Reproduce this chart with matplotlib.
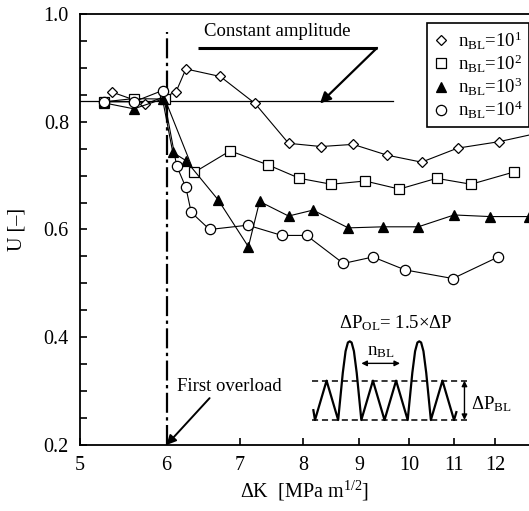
import matplotlib
matplotlib.use("Agg")
import matplotlib.pyplot as plt
from matplotlib.ticker import FixedLocator, NullLocator, NullFormatter

plt.rcParams['font.family'] = ['Liberation Serif', 'DejaVu Serif']
plt.rcParams['mathtext.fontset'] = 'custom'
plt.rcParams['mathtext.rm'] = 'Liberation Serif'
plt.rcParams['mathtext.it'] = 'Liberation Serif:italic'

# data: dK [MPa m^1/2], U [-]
dk_10 = [5.35, 5.74, 6.12, 6.25, 6.72, 7.23, 7.76, 8.31, 8.89, 9.55, 10.27, 11.08, 12.09, 13.2]
u_10 = [0.855, 0.833, 0.855, 0.898, 0.884, 0.834, 0.760, 0.754, 0.758, 0.738, 0.725, 0.751, 0.763, 0.780]

dk_100 = [5.26, 5.60, 5.98, 6.36, 6.86, 7.43, 7.94, 8.49, 9.12, 9.80, 10.60, 11.40, 12.49]
u_100 = [0.837, 0.843, 0.842, 0.706, 0.746, 0.720, 0.695, 0.684, 0.690, 0.675, 0.695, 0.684, 0.707]

dk_1000 = [5.26, 5.60, 5.95, 6.08, 6.25, 6.69, 7.13, 7.30, 7.76, 8.17, 8.80, 9.47, 10.20, 11.0, 11.86, 12.87]
u_1000 = [0.835, 0.824, 0.842, 0.743, 0.728, 0.655, 0.568, 0.652, 0.625, 0.636, 0.603, 0.605, 0.605, 0.627, 0.624, 0.624]

dk_10000 = [5.26, 5.60, 5.95, 6.13, 6.25, 6.32, 6.57, 7.12, 7.65, 8.06, 8.71, 9.27, 9.92, 10.97, 12.07]
u_10000 = [0.837, 0.837, 0.858, 0.718, 0.678, 0.632, 0.600, 0.608, 0.589, 0.589, 0.537, 0.549, 0.525, 0.509, 0.549]

u_const = 0.838
x_ticks = [5, 6, 7, 8, 9, 10, 11, 12]

# schematic load sequence (cycle index, relative load)
wave_u = [-0.07, 0.0, 0.5, 1.0, 1.2, 1.32, 1.42, 1.5, 1.58, 1.68, 1.8, 2.0, 2.5, 3.0, 3.5, 4.0,
          4.2, 4.32, 4.42, 4.5, 4.58, 4.68, 4.8, 5.0, 5.5, 6.0, 6.1]
wave_p = [0.25, 0.0, 1.0, 0.0, 1.2, 1.75, 1.97, 2.0, 1.97, 1.75, 1.2, 0.0, 1.0, 0.0, 1.0, 0.0,
          1.2, 1.75, 1.97, 2.0, 1.97, 1.75, 1.2, 0.0, 1.0, 0.0, 0.2]

fig = plt.figure(figsize=(5.29, 5.11), dpi=100)
ax = fig.add_axes([80/529, 1-445/511, 449/529, 431/511])

ms = 7.4
lw = 0.8
ax.plot(dk_10, u_10, '-', color='black', lw=lw, marker='D', ms=5.5, mfc='white', mec='black', mew=0.9, zorder=3)
ax.plot(dk_100, u_100, '-', color='black', lw=lw, marker='s', ms=ms, mfc='white', mec='black', mew=0.9, zorder=3)
ax.plot(dk_1000, u_1000, '-', color='black', lw=lw, marker='^', ms=ms, mfc='black', mec='black', mew=0.9, zorder=3)
ax.plot(dk_10000, u_10000, '-', color='black', lw=lw, marker='o', ms=ms, mfc='white', mec='black', mew=0.9, zorder=3)

# constant amplitude level
ax.plot([5, 9.68], [u_const, u_const], color='black', lw=0.9, zorder=2)
ax.text(7.58, 0.9675, 'Constant amplitude', ha='center', va='center', fontsize=13.5)
ax.plot([6.41, 9.35], [0.937, 0.937], color='black', lw=2.2, solid_capstyle='butt')
ax.annotate('', xy=(8.29, 0.834), xytext=(9.35, 0.937),
            arrowprops=dict(arrowstyle='-|>', color='black', lw=1.6, mutation_scale=16, shrinkA=0, shrinkB=0))

# first overload
ax.plot([6, 6], [0.2, 0.967], color='black', lw=1.6, linestyle=(0, (9, 2, 1.5, 2)), zorder=2)
ax.text(6.14, 0.308, 'First overload', ha='left', va='center', fontsize=13.5)
ax.annotate('', xy=(6.0, 0.2), xytext=(6.57, 0.287),
            arrowprops=dict(arrowstyle='-|>', color='black', lw=1.4, mutation_scale=14, shrinkA=0, shrinkB=0))

ax.set_xscale('log')
ax.set_xlim(5, 12.88)
ax.set_ylim(0.2, 1.0)
ax.xaxis.set_major_locator(FixedLocator(x_ticks))
ax.xaxis.set_minor_locator(NullLocator())
ax.xaxis.set_minor_formatter(NullFormatter())
ax.set_xticklabels([str(t) for t in x_ticks])
ax.set_yticks([0.2, 0.4, 0.6, 0.8, 1.0])
ax.set_yticks([0.25, 0.3, 0.35, 0.45, 0.5, 0.55, 0.65, 0.7, 0.75, 0.85, 0.9, 0.95], minor=True)
ax.tick_params(which='both', direction='in', length=5, width=1.2, labelsize=14.5, top=False, right=False)
ax.tick_params(axis='x', pad=8)
ax.tick_params(axis='y', pad=8)
ax.spines['right'].set_visible(False)
for s in ['left', 'bottom', 'top']:
    ax.spines[s].set_linewidth(1.3)

ax.set_xlabel(r'$\Delta$K  [MPa m$^{1/2}$]', fontsize=14.5, labelpad=3)
ax.set_ylabel('U [–]', fontsize=14.5, labelpad=12)

labels = [r'n$_{\mathrm{BL}}$=10$^{1}$', r'n$_{\mathrm{BL}}$=10$^{2}$',
          r'n$_{\mathrm{BL}}$=10$^{3}$', r'n$_{\mathrm{BL}}$=10$^{4}$']
h1, = ax.plot([], [], ls='none', marker='D', ms=5.5, mfc='white', mec='black', mew=0.9)
h2, = ax.plot([], [], ls='none', marker='s', ms=ms, mfc='white', mec='black', mew=0.9)
h3, = ax.plot([], [], ls='none', marker='^', ms=ms, mfc='black', mec='black', mew=0.9)
h4, = ax.plot([], [], ls='none', marker='o', ms=ms, mfc='white', mec='black', mew=0.9)
leg = ax.legend([h1, h2, h3, h4], labels, loc='upper right', bbox_to_anchor=(1.0, 0.979),
                fontsize=13.5, frameon=True, fancybox=False, framealpha=1, edgecolor='black',
                handlelength=0.8, handletextpad=0.5, labelspacing=0.05, borderpad=0.35, borderaxespad=0)
leg.get_frame().set_linewidth(1.2)

# load sequence sketch
ins = fig.add_axes([303.4/529, 1-431.8/511, 185.4/529, 118/511])
ins.set_xlim(-0.5, 7.5)
ins.set_ylim(-0.3, 2.7)
ins.axis('off')
ins.plot(wave_u, wave_p, color='black', lw=1.6, clip_on=False)
ins.plot([-0.14, 6.55], [0, 0], color='black', lw=1.1, ls=(0, (4, 2.5)), clip_on=False)
ins.plot([-0.14, 6.55], [1, 1], color='black', lw=1.1, ls=(0, (4, 2.5)), clip_on=False)
ins.annotate('', xy=(6.45, 0.0), xytext=(6.45, 1.0),
             arrowprops=dict(arrowstyle='<|-|>', color='black', lw=1.0, mutation_scale=8, shrinkA=0, shrinkB=0))
ins.annotate('', xy=(2.0, 1.44), xytext=(3.67, 1.44),
             arrowprops=dict(arrowstyle='<|-|>', color='black', lw=1.0, mutation_scale=8, shrinkA=0, shrinkB=0))
ins.text(2.85, 1.74, r'n$_{\mathrm{BL}}$', ha='center', va='center', fontsize=13.5)
ins.text(6.75, 0.4, r'$\Delta$P$_{\mathrm{BL}}$', ha='left', va='center', fontsize=13.5, clip_on=False)
ins.text(3.5, 2.45, r'$\Delta$P$_{\mathrm{OL}}$= 1.5$\times\Delta$P', ha='center', va='center', fontsize=13.5, clip_on=False)

fig.savefig('out.png', dpi=100)
